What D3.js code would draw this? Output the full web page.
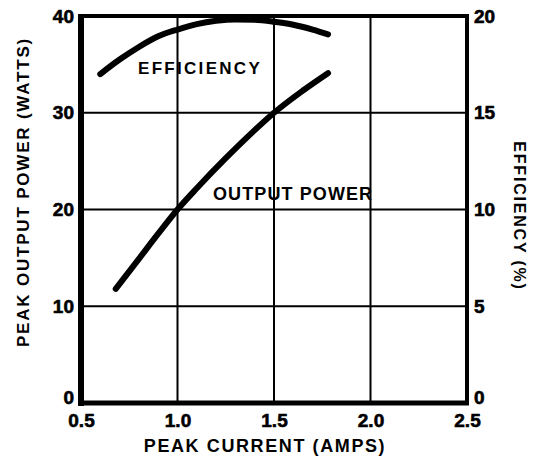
<!DOCTYPE html>
<html>
<head>
<meta charset="utf-8">
<script src="https://cdn.jsdelivr.net/npm/d3@7"></script>
<style>
  body { margin: 0; background: #fff; }
  text { font-family: "Liberation Sans", Arial, sans-serif; font-weight: bold; fill: #000; }
</style>
</head>
<body>
<svg width="541" height="458"></svg>
<script>
// peak current vs output power / efficiency

var xTicks = [0.5, 1.0, 1.5, 2.0, 2.5];
var powerTicks = [0, 10, 20, 30, 40];
var effTicks = [0, 5, 10, 15, 20];

var powerAmps = [0.68, 0.8, 0.9, 1.0, 1.1, 1.25, 1.4, 1.5, 1.65, 1.78];
var powerWatts = [11.8, 14.9, 17.5, 20.0, 22.2, 25.3, 28.2, 30.0, 32.3, 34.1];

var effAmps = [0.6, 0.7, 0.8, 0.9, 1.0, 1.1, 1.2, 1.3, 1.4, 1.5, 1.6, 1.7, 1.78];
var effPct = [17.0, 17.75, 18.4, 18.95, 19.3, 19.58, 19.75, 19.82, 19.8, 19.7, 19.55, 19.3, 19.05];

var svg = d3.select("svg"),
margin = {top: 16, right: 74, bottom: 55, left: 81},
width = +svg.attr("width") - margin.left - margin.right,
height = +svg.attr("height") - margin.top - margin.bottom,
g = svg.append("g").attr("transform", "translate(" + margin.left + "," + margin.top + ")");

var x = d3.scaleLinear().domain([0.5, 2.5]).range([0, width]);
var yL = d3.scaleLinear().domain([0, 40]).range([height, 0]);
var yR = d3.scaleLinear().domain([0, 20]).range([height, 0]);

// grid
g.append("g")
.selectAll("line")
.data(xTicks.slice(1, -1))
.enter().append("line")
.attr("x1", function(d) { return x(d); })
.attr("x2", function(d) { return x(d); })
.attr("y1", 0)
.attr("y2", height)
.attr("stroke", "#000")
.attr("stroke-width", 2);

g.append("g")
.selectAll("line")
.data(powerTicks.slice(1, -1))
.enter().append("line")
.attr("x1", 0)
.attr("x2", width)
.attr("y1", function(d) { return yL(d); })
.attr("y2", function(d) { return yL(d); })
.attr("stroke", "#000")
.attr("stroke-width", 2);

// frame
g.append("line").attr("x1", 0).attr("x2", 0).attr("y1", -2).attr("y2", height + 3)
.attr("stroke", "#000").attr("stroke-width", 6);
g.append("line").attr("x1", -3).attr("x2", width + 2).attr("y1", height).attr("y2", height)
.attr("stroke", "#000").attr("stroke-width", 5);
g.append("line").attr("x1", -3).attr("x2", width + 2).attr("y1", 0).attr("y2", 0)
.attr("stroke", "#000").attr("stroke-width", 4);
g.append("line").attr("x1", width).attr("x2", width).attr("y1", -2).attr("y2", height + 2)
.attr("stroke", "#000").attr("stroke-width", 4);

// axes (labels only)
var axX = g.append("g")
.attr("transform", "translate(0," + height + ")")
.call(d3.axisBottom(x).tickValues(xTicks).tickFormat(d3.format(".1f")).tickSize(0).tickPadding(12));

var axL = g.append("g")
.call(d3.axisLeft(yL).tickValues(powerTicks).tickSize(0).tickPadding(7));

var axR = g.append("g")
.attr("transform", "translate(" + width + ",0)")
.call(d3.axisRight(yR).tickValues(effTicks).tickSize(0).tickPadding(7));

[axX, axL, axR].forEach(function(a) {
  a.select(".domain").remove();
  a.selectAll("text").attr("font-size", 19).attr("fill", "#000")
  .attr("stroke", "#000").attr("stroke-width", 0.6)
  .style("font-family", "'Liberation Sans', Arial, sans-serif").style("font-weight", "bold");
});
axX.selectAll("text").attr("dy", "0.62em");
// the zero labels sit a little above the bottom line
axL.selectAll(".tick text").filter(function(d) { return d === 0; }).attr("dy", "0.0em");
axR.selectAll(".tick text").filter(function(d) { return d === 0; }).attr("dy", "0.05em");

// curves
var powerData = powerAmps.map(function(a, i) { return {a: a, v: powerWatts[i]}; });
var effData = effAmps.map(function(a, i) { return {a: a, v: effPct[i]}; });

g.append("path")
.datum(powerData)
.attr("fill", "none")
.attr("stroke", "#000")
.attr("stroke-width", 6)
.attr("stroke-linecap", "round")
.attr("d", d3.line().curve(d3.curveMonotoneX)
  .x(function(d) { return x(d.a); })
  .y(function(d) { return yL(d.v); }));

g.append("path")
.datum(effData)
.attr("fill", "none")
.attr("stroke", "#000")
.attr("stroke-width", 6)
.attr("stroke-linecap", "round")
.attr("d", d3.line().curve(d3.curveMonotoneX)
  .x(function(d) { return x(d.a); })
  .y(function(d) { return yR(d.v); }));

// curve names
g.append("text")
.attr("x", 57)
.attr("y", 58)
.attr("font-size", 17)
.attr("letter-spacing", 2.3)
.text("EFFICIENCY");

g.append("text")
.attr("x", 132)
.attr("y", 184)
.attr("font-size", 18)
.attr("letter-spacing", 1.1)
.text("OUTPUT POWER");

// axis titles
svg.append("text")
.attr("text-anchor", "middle")
.attr("x", 265)
.attr("y", 452)
.attr("font-size", 18)
.attr("letter-spacing", 1.6)
.text("PEAK CURRENT (AMPS)");

svg.append("text")
.attr("text-anchor", "middle")
.attr("transform", "translate(29,192) rotate(-90)")
.attr("font-size", 17)
.attr("letter-spacing", 1.8)
.text("PEAK OUTPUT POWER (WATTS)");

svg.append("text")
.attr("text-anchor", "middle")
.attr("transform", "translate(514,216) rotate(90)")
.attr("font-size", 16)
.attr("letter-spacing", 1.8)
.text("EFFICIENCY (%)");
</script>
</body>
</html>
